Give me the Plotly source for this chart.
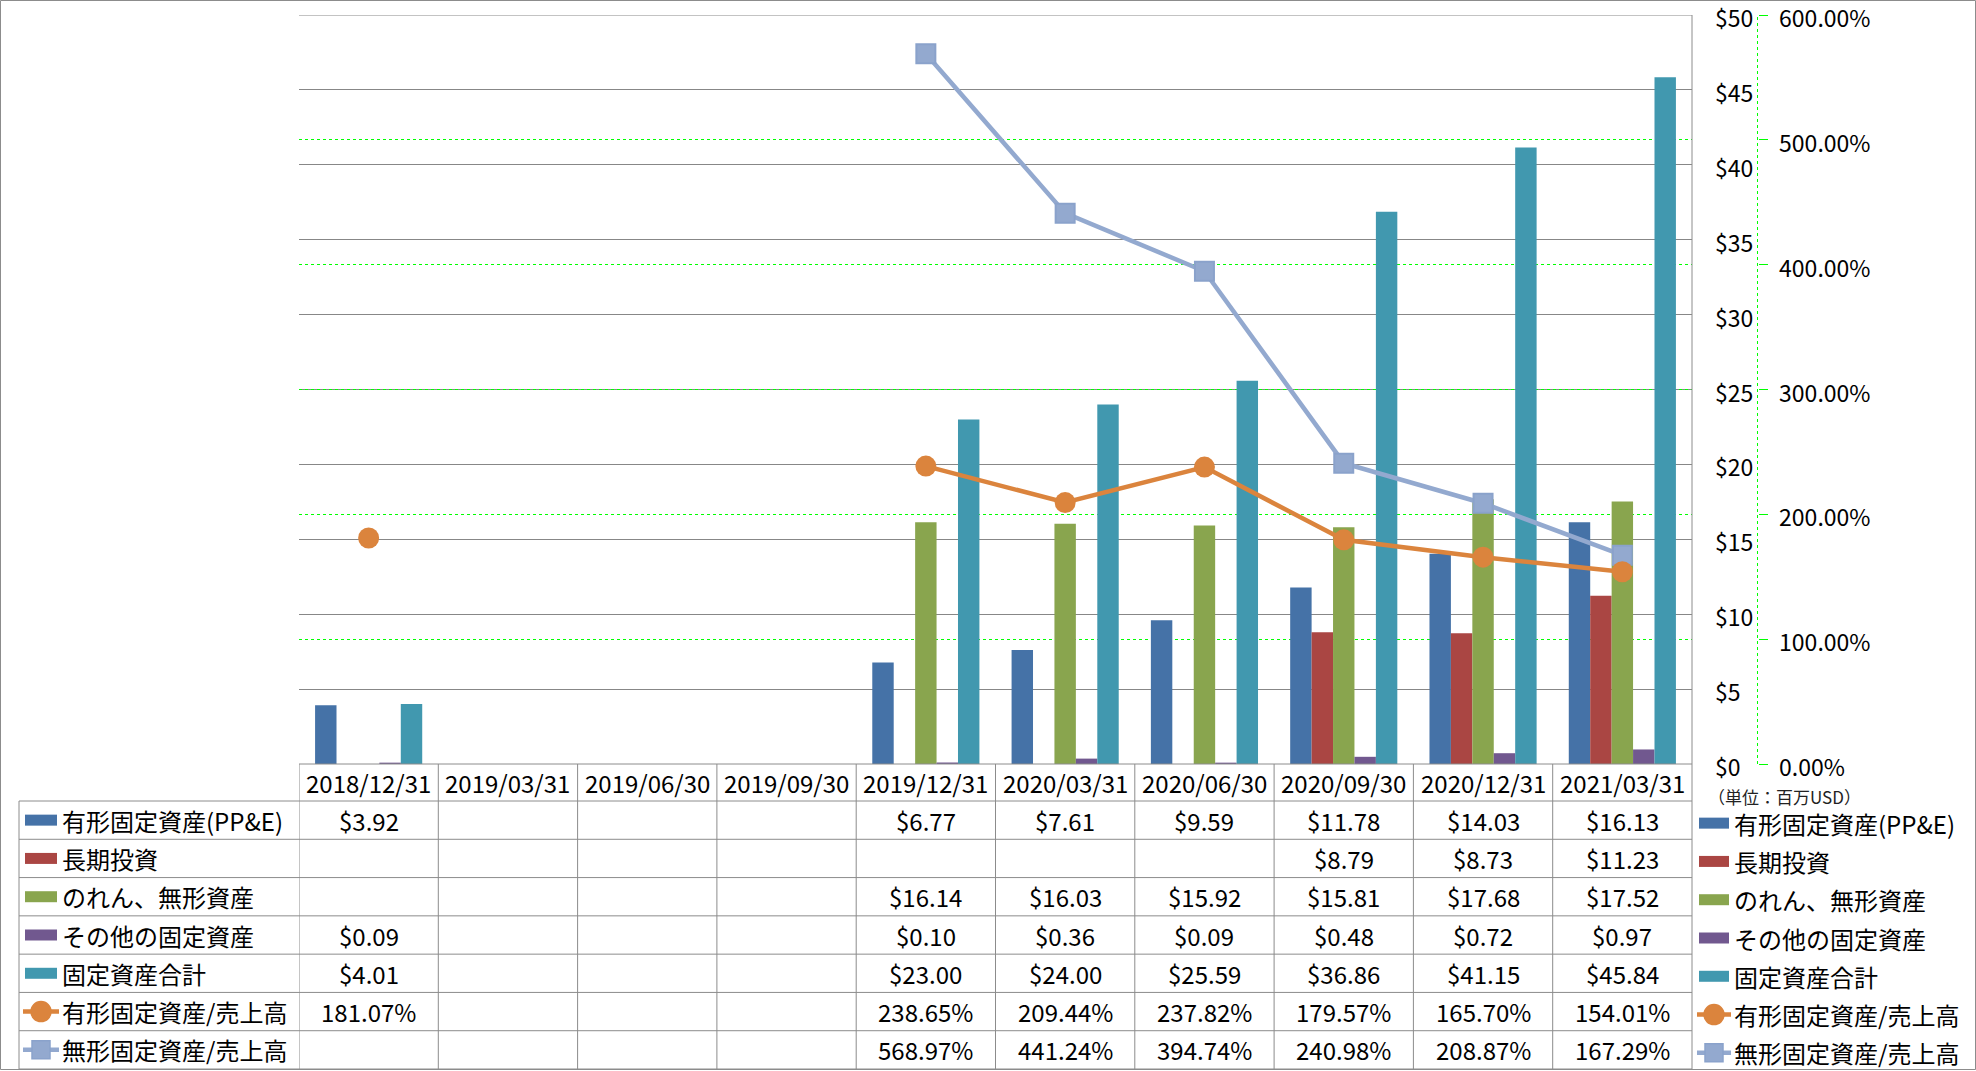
import plotly.graph_objects as go

# ---------------- data ----------------
categories = ['2018/12/31', '2019/03/31', '2019/06/30', '2019/09/30', '2019/12/31',
              '2020/03/31', '2020/06/30', '2020/09/30', '2020/12/31', '2021/03/31']

ppe = [3.92, None, None, None, 6.77, 7.61, 9.59, 11.78, 14.03, 16.13]
long_term_investments = [None, None, None, None, None, None, None, 8.79, 8.73, 11.23]
goodwill_intangibles = [None, None, None, None, 16.14, 16.03, 15.92, 15.81, 17.68, 17.52]
other_fixed_assets = [0.09, None, None, None, 0.10, 0.36, 0.09, 0.48, 0.72, 0.97]
total_fixed_assets = [4.01, None, None, None, 23.00, 24.00, 25.59, 36.86, 41.15, 45.84]
ppe_to_sales = [1.8107, None, None, None, 2.3865, 2.0944, 2.3782, 1.7957, 1.6570, 1.5401]
intangible_to_sales = [None, None, None, None, 5.6897, 4.4124, 3.9474, 2.4098, 2.0887, 1.6729]

series_names = ['有形固定資産(PP&E)', '長期投資', 'のれん、無形資産', 'その他の固定資産',
                '固定資産合計', '有形固定資産/売上高', '無形固定資産/売上高']
unit_label = '（単位：百万USD）'

bar_series = [ppe, long_term_investments, goodwill_intangibles, other_fixed_assets, total_fixed_assets]
line_series = [ppe_to_sales, intangible_to_sales]

# ---------------- styles ----------------
bar_colors = ['#4572A7', '#AA4643', '#89A54E', '#71588F', '#4198AF']
line_colors = ['#DB843D', '#93A9CF']
marker_edge = ['#DB843D', '#8AA2CB']
grid_gray = '#878787'
table_gray = '#8C8C8C'
green = '#00FF00'
FONT = 'Noto Sans CJK JP'
FS = 24
AXIS_FS = 23

W, H = 1976, 1071


def fx(p):
    return p / W


def fy(p):
    return 1 - p / H


PL, PR, PT, PB = 299, 1692, 15, 764
TABLE_L = 19
ROW0 = 801
TABLE_B = 1069
ROWH = (TABLE_B - ROW0) / 7
row_centers = [ROW0 + ROWH * (i + 0.5) for i in range(7)]
header_center = (PB + ROW0) / 2

fig = go.Figure()

for name, vals, col in zip(series_names[:5], bar_series, bar_colors):
    fig.add_trace(go.Bar(x=categories, y=vals, name=name, yaxis='y',
                         marker=dict(color=col, line=dict(width=0))))

# light blue line first, orange on top
fig.add_trace(go.Scatter(x=categories, y=intangible_to_sales, name=series_names[6], yaxis='y2',
                         mode='lines+markers', connectgaps=False,
                         line=dict(color=line_colors[1], width=4.5),
                         marker=dict(symbol='square', size=19, color=line_colors[1],
                                     line=dict(color=marker_edge[1], width=2))))
fig.add_trace(go.Scatter(x=categories, y=ppe_to_sales, name=series_names[5], yaxis='y2',
                         mode='lines+markers', connectgaps=False,
                         line=dict(color=line_colors[0], width=4.5),
                         marker=dict(symbol='circle', size=21, color=line_colors[0],
                                     line=dict(width=0))))

shapes = []
annotations = []

# top gray gridline drawn over the green one
shapes.append(dict(type='line', xref='paper', yref='y', x0=fx(PL), x1=fx(PR), y0=50, y1=50,
                   line=dict(color=grid_gray, width=1), layer='between'))

# secondary axis dashed line
shapes.append(dict(type='line', xref='paper', yref='y2', x0=fx(1757.5), x1=fx(1757.5), y0=0, y1=6,
                   line=dict(color=green, width=1, dash='3px,3px'), layer='above'))

# table: horizontal lines
shapes.append(dict(type='line', xref='paper', yref='paper', x0=fx(PL), x1=fx(PR),
                   y0=fy(PB), y1=fy(PB), line=dict(color=table_gray, width=1), layer='above'))
for i in range(8):
    yy = ROW0 + ROWH * i
    shapes.append(dict(type='line', xref='paper', yref='paper', x0=fx(TABLE_L), x1=fx(PR),
                       y0=fy(yy), y1=fy(yy), line=dict(color=table_gray, width=1), layer='above'))
# table: vertical lines
shapes.append(dict(type='line', xref='paper', yref='paper', x0=fx(TABLE_L), x1=fx(TABLE_L),
                   y0=fy(ROW0), y1=fy(TABLE_B), line=dict(color=table_gray, width=1), layer='above'))
for i in range(len(categories)):
    shapes.append(dict(type='line', xref='x', yref='paper', x0=i - 0.5, x1=i - 0.5,
                       y0=fy(PB), y1=fy(TABLE_B), line=dict(color=table_gray, width=1), layer='above'))
shapes.append(dict(type='line', xref='paper', yref='paper', x0=fx(PR), x1=fx(PR),
                   y0=fy(PT), y1=fy(TABLE_B), line=dict(color=table_gray, width=1), layer='above'))
# outer chart border
shapes.append(dict(type='rect', xref='paper', yref='paper', x0=fx(0.5), x1=fx(W - 0.5),
                   y0=fy(0.5), y1=fy(H - 1.5), line=dict(color=table_gray, width=1),
                   fillcolor='rgba(0,0,0,0)', layer='above'))

# header labels
for c in categories:
    annotations.append(dict(x=c, xref='x', y=fy(header_center), yref='paper', text=c,
                            showarrow=False, xanchor='center', yanchor='middle',
                            font=dict(family=FONT, size=FS, color='black')))

# table values
all_series = bar_series + line_series
for r, vals in enumerate(all_series):
    for c, v in zip(categories, vals):
        if v is None:
            continue
        txt = f'${v:.2f}' if r < 5 else f'{v * 100:.2f}%'
        annotations.append(dict(x=c, xref='x', y=fy(row_centers[r]), yref='paper', text=txt,
                                showarrow=False, xanchor='center', yanchor='middle',
                                font=dict(family=FONT, size=FS, color='black')))


def legend_entry(idx, sym_x0, sym_x1, text_x, yc):
    if idx < 5:
        shapes.append(dict(type='rect', xref='paper', yref='paper', x0=fx(sym_x0), x1=fx(sym_x1),
                           y0=fy(yc - 5.5), y1=fy(yc + 5.5), fillcolor=bar_colors[idx],
                           line=dict(width=0), layer='above'))
    else:
        li = 0 if idx == 5 else 1
        shapes.append(dict(type='line', xref='paper', yref='paper', x0=fx(sym_x0 - 2), x1=fx(sym_x1 + 2),
                           y0=fy(yc), y1=fy(yc), line=dict(color=line_colors[li], width=4.5),
                           layer='above'))
        cx = (sym_x0 + sym_x1) / 2
        r = 10 if li == 0 else 9
        shapes.append(dict(type='circle' if li == 0 else 'rect', xref='paper', yref='paper',
                           xsizemode='pixel', ysizemode='pixel', xanchor=fx(cx), yanchor=fy(yc),
                           x0=-r, x1=r, y0=-r, y1=r, fillcolor=line_colors[li],
                           line=dict(color=marker_edge[li], width=1.5), layer='above'))
    annotations.append(dict(x=fx(text_x), xref='paper', y=fy(yc), yref='paper', text=series_names[idx],
                            showarrow=False, xanchor='left', yanchor='middle',
                            font=dict(family=FONT, size=FS, color='black')))


for i in range(7):
    legend_entry(i, 25, 57, 60, row_centers[i])
    legend_entry(i, 1699, 1729, 1732, row_centers[i] + 3)

annotations.append(dict(x=fx(1706), xref='paper', y=fy(796), yref='paper', text=unit_label,
                        showarrow=False, xanchor='left', yanchor='middle',
                        font=dict(family=FONT, size=17, color='#222222')))

fig.update_layout(
    width=W, height=H,
    margin=dict(l=0, r=0, t=0, b=0, pad=0, autoexpand=False),
    paper_bgcolor='white', plot_bgcolor='white',
    showlegend=False,
    barmode='group', bargap=0.2308, bargroupgap=0,
    font=dict(family=FONT, size=FS, color='black'),
    xaxis=dict(type='category', domain=[fx(PL), fx(PR)], range=[-0.5, 9.5], automargin=False,
               showticklabels=False, showgrid=False, zeroline=False, showline=False, ticks=''),
    yaxis=dict(domain=[fy(PB), fy(PT)], range=[0, 50], dtick=5, tick0=0, tickprefix='$',
               side='right', showgrid=True, gridcolor=grid_gray, gridwidth=1, automargin=False,
               zeroline=False, showline=False, ticks='', ticklabelstandoff=22,
               ticklabeloverflow='allow', ticklabelshift=4,
               tickfont=dict(family=FONT, size=AXIS_FS, color='black')),
    yaxis2=dict(overlaying='y', anchor='free', position=fx(1757.5), side='right',
                range=[0, 6], dtick=1, tick0=0, tickformat='.2%', automargin=False,
                showgrid=True, gridcolor=green, griddash='3px,3px', gridwidth=1,
                zeroline=False, showline=False, ticks='outside', ticklen=9, tickwidth=1,
                tickcolor=green, ticklabelstandoff=7, ticklabeloverflow='allow',
                ticklabelshift=4,
                tickfont=dict(family=FONT, size=AXIS_FS, color='black')),
    shapes=shapes,
    annotations=annotations,
)

fig.write_html('out.html',
               config={'staticPlot': True, 'displayModeBar': False, 'responsive': False},
               post_script="document.body.style.margin='0';")
